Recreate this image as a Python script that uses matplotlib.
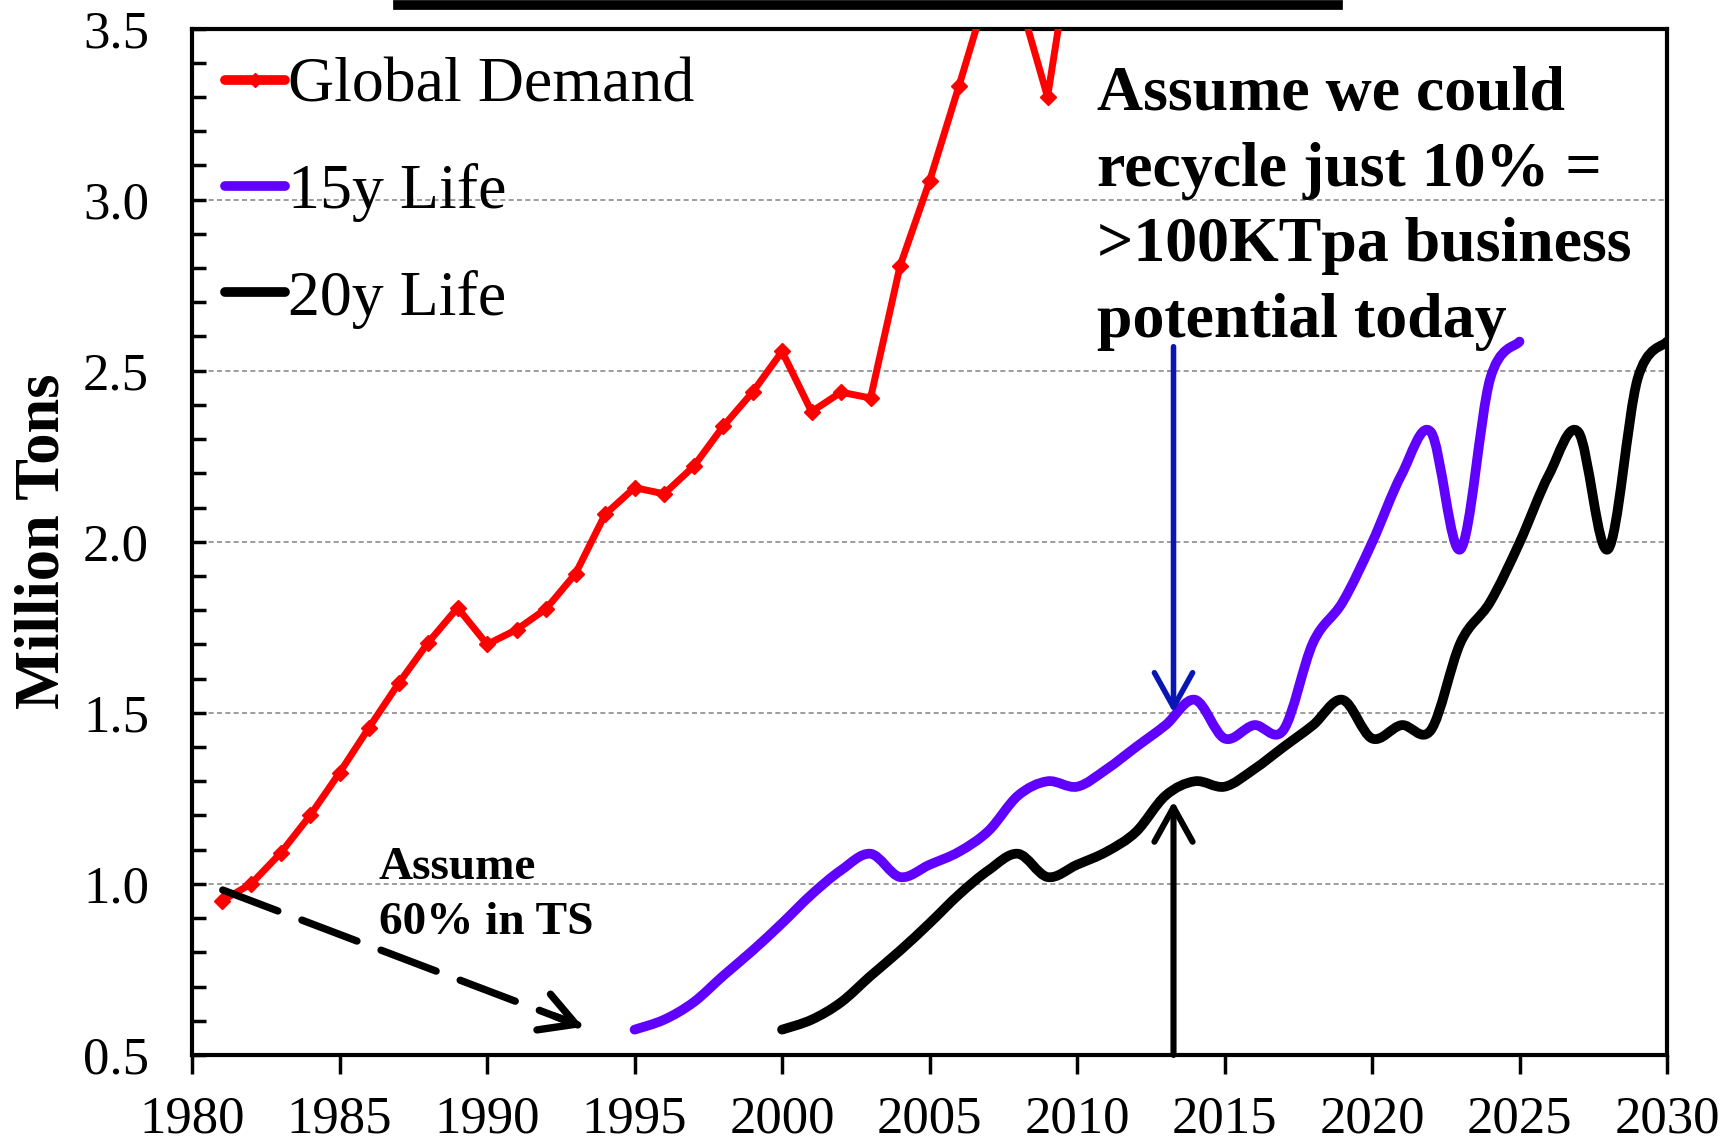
import matplotlib
matplotlib.use('Agg')
import matplotlib.pyplot as plt
from matplotlib.path import Path
from matplotlib.patches import PathPatch
from matplotlib.lines import Line2D
from matplotlib.ticker import MultipleLocator, FormatStrFormatter

plt.rcParams['font.family'] = ['Liberation Serif', 'DejaVu Serif']

# Global demand (million tons), clipped above 3.5 in the original
demand_years = list(range(1981, 2011))
demand = [0.95, 1.00, 1.09, 1.20, 1.325, 1.457, 1.586, 1.705, 1.807, 1.70,
          1.743, 1.804, 1.907, 2.08, 2.158, 2.14, 2.22, 2.337, 2.437, 2.556,
          2.38, 2.437, 2.42, 2.806, 3.054, 3.333, 3.62, 3.60, 3.30, 3.85]

# 15 year life
life15_years = list(range(1995, 2026))
life15 = [0.574, 0.603, 0.654, 0.731, 0.805, 0.885, 0.969, 1.04, 1.088, 1.02,
          1.056, 1.094, 1.155, 1.258, 1.30, 1.284, 1.335, 1.40, 1.464, 1.538,
          1.425, 1.464, 1.45, 1.705, 1.823, 1.997, 2.196, 2.32, 1.978, 2.475,
          2.585]

# 20 year life
life20_years = list(range(2000, 2031))
life20 = [0.574, 0.603, 0.654, 0.731, 0.805, 0.885, 0.969, 1.04, 1.088, 1.02,
          1.056, 1.094, 1.152, 1.258, 1.30, 1.284, 1.335, 1.40, 1.464, 1.538,
          1.425, 1.464, 1.45, 1.705, 1.823, 1.997, 2.196, 2.32, 1.978, 2.475,
          2.585]

RED = '#ff0000'
PURPLE = '#6000ff'
BLUE = '#0a16b4'


def smooth_path(x, y):
    # catmull-rom style bezier, like a spreadsheet "smoothed line"
    verts = [(x[0], y[0])]
    codes = [Path.MOVETO]
    n = len(x)
    for i in range(n - 1):
        x0, y0 = (x[i - 1], y[i - 1]) if i > 0 else (x[i], y[i])
        x3, y3 = (x[i + 2], y[i + 2]) if i + 2 < n else (x[i + 1], y[i + 1])
        c1 = (x[i] + (x[i + 1] - x0) / 6, y[i] + (y[i + 1] - y0) / 6)
        c2 = (x[i + 1] - (x3 - x[i]) / 6, y[i + 1] - (y3 - y[i]) / 6)
        verts += [c1, c2, (x[i + 1], y[i + 1])]
        codes += [Path.CURVE4] * 3
    return Path(verts, codes)


fig = plt.figure(figsize=(17.23, 11.4), dpi=100)
ax = fig.add_axes([0.1115, 0.0746, 0.856, 0.9004])

ax.plot(demand_years, demand, color=RED, lw=5, marker='D', ms=8,
        solid_joinstyle='round', solid_capstyle='round', zorder=3)

for xs, ys, col in [(life15_years, life15, PURPLE), (life20_years, life20, 'black')]:
    ax.add_patch(PathPatch(smooth_path(xs, ys), fill=False, edgecolor=col,
                           lw=7, capstyle='round', joinstyle='round', zorder=3))

ax.set_xlim(1980, 2030)
ax.set_ylim(0.5, 3.5)
ax.xaxis.set_major_locator(MultipleLocator(5))
ax.yaxis.set_major_locator(MultipleLocator(0.5))
ax.yaxis.set_minor_locator(MultipleLocator(0.1))
ax.yaxis.set_major_formatter(FormatStrFormatter('%.1f'))

ax.tick_params(axis='x', direction='out', length=14, width=2.5, pad=15, labelsize=38)
ax.tick_params(axis='y', which='both', direction='in', length=10, width=2.5, pad=31, labelsize=38)
for s in ax.spines.values():
    s.set_linewidth(3)

ax.yaxis.grid(True, color='#8c8c8c', linestyle=(0, (3, 2)), lw=1.2)
ax.set_axisbelow(True)

ax.set_ylabel('Million Tons', fontsize=45, fontweight='bold')
ax.yaxis.set_label_coords(-0.081, 0.5)

handles = [
    Line2D([], [], color=RED, lw=7, marker='D', ms=7, solid_capstyle='round'),
    Line2D([], [], color=PURPLE, lw=7, solid_capstyle='round'),
    Line2D([], [], color='black', lw=7, solid_capstyle='round'),
]
ax.legend(handles, ['Global Demand', '15y Life', '20y Life'], loc='upper left',
          bbox_to_anchor=(0.022, 0.972), frameon=False, fontsize=46,
          handlelength=0.95, handletextpad=0.05, labelspacing=0.74,
          borderpad=0, borderaxespad=0, markerscale=1)

ax.text(2010.66, 3.39, 'Assume we could\nrecycle just 10% =\n>100KTpa business\npotential today',
        fontsize=46, fontweight='bold', va='top', ha='left', linespacing=1.4)
ax.text(1986.33, 1.107, 'Assume\n60% in TS', fontsize=34, fontweight='bold',
        va='top', ha='left', linespacing=1.4)

ax.annotate('', xy=(2013.27, 1.50), xytext=(2013.27, 2.57),
            arrowprops=dict(arrowstyle='->,head_length=0.45,head_width=0.25', color=BLUE,
                            lw=4, shrinkA=0, shrinkB=0, mutation_scale=55,
                            capstyle='round', joinstyle='round'))
ax.annotate('', xy=(2013.27, 1.242), xytext=(2013.27, 0.5),
            arrowprops=dict(arrowstyle='->,head_length=0.45,head_width=0.25', color='black',
                            lw=4.4, shrinkA=0, shrinkB=0, mutation_scale=55,
                            capstyle='round', joinstyle='round'))
# dashed arrow: shaft then solid head
ax.annotate('', xy=(1993.25, 0.582), xytext=(1981.04, 0.982),
            arrowprops=dict(arrowstyle='-', color='black', lw=5.3, ls=(0, (8, 3.5)),
                            shrinkA=0, shrinkB=4))
ax.annotate('', xy=(1993.25, 0.582), xytext=(1992.3, 0.613),
            arrowprops=dict(arrowstyle='->,head_length=0.45,head_width=0.25', color='black',
                            lw=5.3, shrinkA=0, shrinkB=0, mutation_scale=55,
                            capstyle='round', joinstyle='round'))

# underline of the cropped title above the chart
fig.add_artist(Line2D([398 / 1723, 1338 / 1723], [1 - 5 / 1140] * 2, lw=7,
                      color='black', transform=fig.transFigure))

fig.savefig('out.png', dpi=100)
